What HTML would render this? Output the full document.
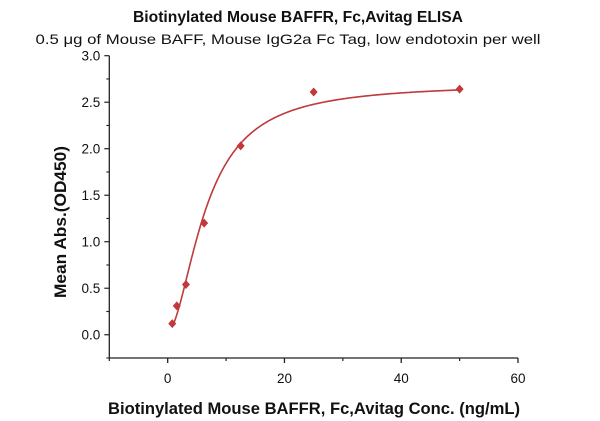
<!DOCTYPE html>
<html><head><meta charset="utf-8"><style>
body{margin:0;background:#fff;}
svg{display:block;font-family:"Liberation Sans",sans-serif;}
</style></head><body>
<svg id="chart" width="600" height="421">
<text x="298" y="22" text-anchor="middle" font-size="15.5" font-weight="bold" fill="#111" textLength="330" lengthAdjust="spacingAndGlyphs">Biotinylated Mouse BAFFR, Fc,Avitag ELISA</text>
<text x="288" y="44" text-anchor="middle" font-size="14" fill="#111" textLength="505" lengthAdjust="spacingAndGlyphs">0.5 μg of Mouse BAFF, Mouse IgG2a Fc Tag, low endotoxin per well</text>
<text transform="translate(66,222) rotate(-90)" text-anchor="middle" font-size="17" font-weight="bold" fill="#111" textLength="152" lengthAdjust="spacingAndGlyphs">Mean Abs.(OD450)</text>
<text x="314" y="414" text-anchor="middle" font-size="17" font-weight="bold" fill="#111" textLength="412" lengthAdjust="spacingAndGlyphs">Biotinylated Mouse BAFFR, Fc,Avitag Conc. (ng/mL)</text>
<g id="axes"></g><g id="marks"></g>
</svg>
<script>
const xs=[0.78,1.56,3.125,6.25,12.5,25,50];
const ys=[0.12,0.31,0.54,1.20,2.03,2.61,2.64];
const xTicks=[0,20,40,60];
const xMinor=[-10,10,30,50];
const yTicks=[0.0,0.5,1.0,1.5,2.0,2.5,3.0];
const fit={bottom:0.03,top:2.7,ec50:6.6,hill:1.8};
const X0=109.3,X1=518,Y0=358,Y1=55.7,xmin=-10,xmax=60,ymin=-0.25,ymax=3.0;
const sx=v=>X0+(v-xmin)/(xmax-xmin)*(X1-X0);
const sy=v=>Y0-(v-ymin)/(ymax-ymin)*(Y0-Y1);
const NS="http://www.w3.org/2000/svg";
const ax=document.getElementById('axes'),mk=document.getElementById('marks');
function mkEl(t,a,p){const e=document.createElementNS(NS,t);for(const k in a)e.setAttribute(k,a[k]);p.appendChild(e);return e;}
let e=mkEl('line',{x1:X0,y1:Y0,x2:X1,y2:Y0,stroke:'#222','stroke-width':1.3},ax);


e=mkEl('line',{x1:X0,y1:Y0,x2:X0,y2:Y1,stroke:'#222','stroke-width':1.3},ax);


xTicks.forEach(v=>{
 e=mkEl('line',{x1:sx(v),y1:Y0,x2:sx(v),y2:Y0+5,stroke:'#222','stroke-width':1.3},ax);
 
 
 e=mkEl('text',{x:sx(v),y:Y0+25,'text-anchor':'middle','font-size':13.5,fill:'#111'},ax);e.textContent=v;
 
 
});
xMinor.forEach(v=>{
 e=mkEl('line',{x1:sx(v),y1:Y0,x2:sx(v),y2:Y0+3,stroke:'#222','stroke-width':1.2},ax);
 
 
});
yTicks.forEach(v=>{
 e=mkEl('line',{x1:X0-5,y1:sy(v),x2:X0,y2:sy(v),stroke:'#222','stroke-width':1.2},ax);
 
 
 e=mkEl('line',{x1:X0-3,y1:sy(v-0.25),x2:X0,y2:sy(v-0.25),stroke:'#222','stroke-width':1.1},ax);
 
 
 e=mkEl('text',{x:X0-9,y:sy(v)+5,'text-anchor':'end','font-size':13.5,fill:'#111'},ax);e.textContent=v.toFixed(1);
 
 
});
let d='';
for(let i=0;i<=200;i++){const x=xs[0]+(xs[xs.length-1]-xs[0])*i/200;
 const y=fit.bottom+(fit.top-fit.bottom)/(1+Math.pow(fit.ec50/x,fit.hill));
 d+=(i?'L':'M')+sx(x).toFixed(2)+','+sy(y).toFixed(2);}
e=mkEl('path',{d:d,fill:'none',stroke:'#c0393b','stroke-width':1.6},mk);


xs.forEach((x,i)=>{const cx=sx(x),cy=sy(ys[i]);
 e=mkEl('path',{d:`M${cx},${cy-4.5}L${cx+4},${cy}L${cx},${cy+4.5}L${cx-4},${cy}Z`,fill:'#c0393b'},mk);
 
 
});
</script>
</body></html>
